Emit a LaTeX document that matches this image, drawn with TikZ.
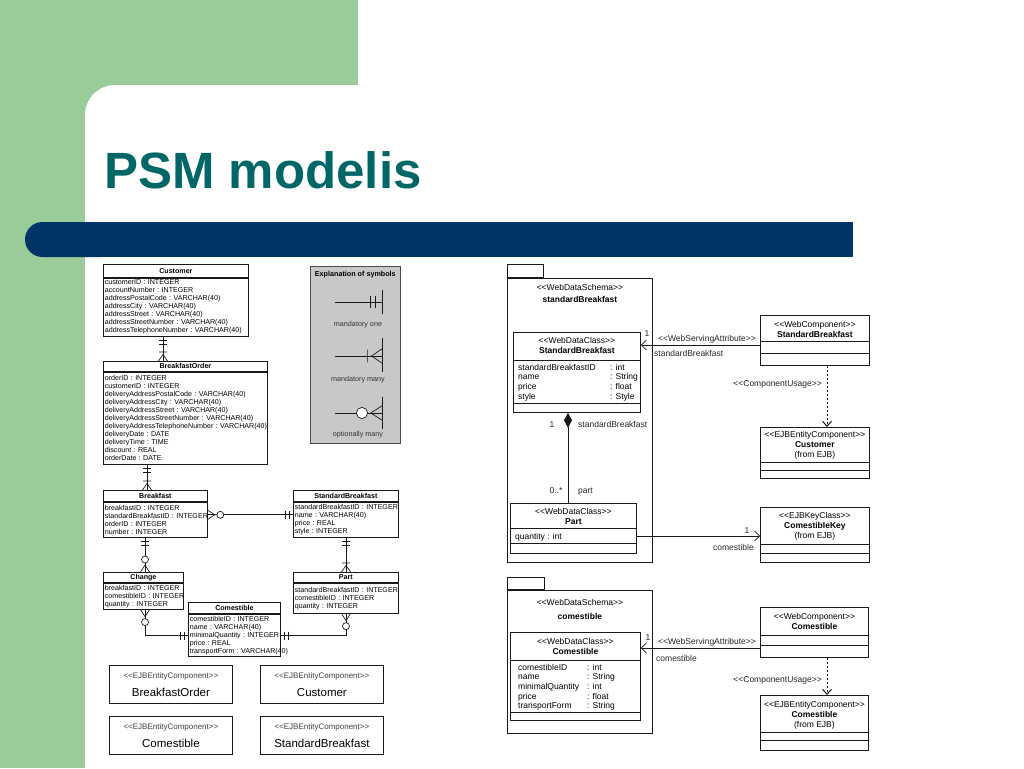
\documentclass[tikz,border=0pt]{standalone}
\usepackage{fontspec}
\setmainfont{Liberation Sans}
\usetikzlibrary{arrows.meta,calc}
\definecolor{slgreen}{HTML}{99CC99}
\definecolor{slteal}{HTML}{006666}
\definecolor{slnavy}{HTML}{003366}
\definecolor{lgray}{HTML}{C8C8C8}
\newcommand\sopen{<\kern0pt<}
\newcommand\sclose{>\kern0pt>}
\newcommand\erf{\fontsize{7.1}{8}\selectfont\hyphenpenalty=10000\exhyphenpenalty=10000\relax}
\newcommand\umf{\fontsize{8.5}{9.6}\selectfont}
\newcommand\ejbs{{\fontsize{8}{9}\selectfont\color{black!75}\sopen EJBEntityComponent\sclose}}
\newcommand\sepl[2]{\draw[umlline] ([yshift=-#2]#1.north west) -- ([yshift=-#2]#1.north east);}
\begin{document}
\begin{tikzpicture}[x=1pt,y=-1pt,
  erline/.style={line width=0.7pt, draw=black!90},
  ert/.style 2 args={draw=black!90, line width=0.8pt, anchor=north west, minimum width=#1, minimum height=#2, inner sep=0pt, font=\erf\bfseries},
  era/.style 2 args={draw=black!90, line width=0.8pt, anchor=north west, inner xsep=1.5pt, inner ysep=0pt, text width=#1, minimum height=#2, align=left, font=\erf},
  umlline/.style={line width=0.7pt, draw=black!90},
  umlbox/.style={draw=black!90, line width=0.8pt, anchor=north west, inner sep=0pt},
  umlt/.style={font=\umf, align=center, inner sep=0pt, anchor=north},
  lbl/.style={font=\umf, inner sep=0pt, text=black!85},
  uarrow/.style={umlline, -{Straight Barb[length=5pt,width=10pt]}},
  udash/.style={line width=1pt, draw=black!90, dash pattern=on 2.5pt off 1.5pt, -{Straight Barb[length=5pt,width=9pt]}},
  ejbl/.style={draw=black!90, line width=0.8pt, anchor=north west, minimum width=123pt, minimum height=38pt, align=center, inner sep=1pt, font=\fontsize{11.5}{14}\selectfont},
  mone/.pic={\draw[erline] (4,-4) -- (4,4) (7.5,-4) -- (7.5,4);},
  mmany/.pic={\draw[erline] (0,-4.5) -- (6.5,0) -- (0,4.5) (9,-4) -- (9,4);},
  omany/.pic={\draw[erline] (0,-4.5) -- (7,0) -- (0,4.5); \draw[erline, fill=white] (12.5,0) circle[radius=3.5pt];},
]
\useasboundingbox (0,0) rectangle (1024,768);
% slide background
\fill[white] (0,0) rectangle (1024,768);
\fill[slgreen] (0,0) rectangle (358,130);
\fill[slgreen] (0,0) rectangle (85,768);
\fill[white, rounded corners=30pt] (85,85) rectangle (1300,1000);
\fill[slnavy, rounded corners=17.5pt] (25,222) rectangle (120,257);
\fill[slnavy] (80,222) rectangle (853,257);
\node[anchor=base west, inner sep=0pt, text=slteal, font=\fontsize{51}{51}\selectfont\bfseries] (title) at (104,188) {PSM modelis};

% ===== ER diagram =====
\node[ert={145pt}{13pt}] (custT) at (103,264) {Customer};
\node[era={142pt}{58pt}] (custA) at (custT.south west) {customerID~:~INTEGER\\accountNumber~:~INTEGER\\addressPostalCode~:~VARCHAR(40)\\addressCity~:~VARCHAR(40)\\addressStreet~:~VARCHAR(40)\\addressStreetNumber~:~VARCHAR(40)\\addressTelephoneNumber~:~VARCHAR(40)};

\node[ert={164pt}{10pt}] (boT) at (103,361) {BreakfastOrder};
\node[era={161pt}{92pt}] (boA) at (boT.south west) {orderID~:~INTEGER\\customerID~:~INTEGER\\deliveryAddressPostalCode~:~VARCHAR(40)\\deliveryAddressCity~:~VARCHAR(40)\\deliveryAddressStreet~:~VARCHAR(40)\\deliveryAddressStreetNumber~:~VARCHAR(40)\\deliveryAddressTelephoneNumber~:~VARCHAR(40)\\deliveryDate~:~DATE\\deliveryTime~:~TIME\\discount~:~REAL\\orderDate~:~DATE};

\node[ert={104pt}{11pt}] (bfT) at (103,490) {Breakfast};
\node[era={101pt}{35pt}] (bfA) at (bfT.south west) {breakfastID~:~INTEGER\\standardBreakfastID~:~INTEGER\\orderID~:~INTEGER\\number~:~INTEGER};

\node[ert={105pt}{11pt}] (sbT) at (293,490) {StandardBreakfast};
\node[era={102pt}{35pt}] (sbA) at (sbT.south west) {standardBreakfastID~:~INTEGER\\name~:~VARCHAR(40)\\price~:~REAL\\style~:~INTEGER};

\node[ert={80pt}{10pt}] (chT) at (103,572) {Change};
\node[era={77pt}{26pt}] (chA) at (chT.south west) {breakfastID~:~INTEGER\\comestibleID~:~INTEGER\\quantity~:~INTEGER};

\node[ert={105pt}{10pt}] (ptT) at (293,572) {Part};
\node[era={102pt}{30pt}] (ptA) at (ptT.south west) {standardBreakfastID~:~INTEGER\\comestibleID~:~INTEGER\\quantity~:~INTEGER};

\node[ert={92pt}{11pt}] (cmT) at (188,602) {Comestible};
\node[era={89pt}{42pt}] (cmA) at (cmT.south west) {comestibleID~:~INTEGER\\name~:~VARCHAR(40)\\minimalQuantity~:~INTEGER\\price~:~REAL\\transportForm~:~VARCHAR(40)};

% ER connectors
\draw[erline] ([xshift=60pt]custA.south west) coordinate (e1) -- (e1 |- boT.north) coordinate (e2);
\pic[rotate=-90] at (e1) {mone};
\pic[rotate=90] at (e2) {mmany};
\draw[erline] ([xshift=44pt]boA.south west) coordinate (e3) -- (e3 |- bfT.north) coordinate (e4);
\pic[rotate=-90] at (e3) {mone};
\pic[rotate=90] at (e4) {mmany};
\draw[erline] ([yshift=-13pt]bfA.north east) coordinate (e5) -- (e5 -| sbA.west) coordinate (e6);
\pic at (e5) {omany};
\pic[rotate=180] at (e6) {mone};
\draw[erline] ([xshift=42pt]bfA.south west) coordinate (e7) -- (e7 |- chT.north) coordinate (e8);
\pic[rotate=-90] at (e7) {mone};
\pic[rotate=90] at (e8) {omany};
\draw[erline] ([xshift=53pt]sbA.south west) coordinate (e9) -- (e9 |- ptT.north) coordinate (e10);
\pic[rotate=-90] at (e9) {mone};
\pic[rotate=90] at (e10) {mmany};
\draw[erline] ([xshift=42pt]chA.south west) coordinate (e11) |- ([yshift=-22pt]cmA.north west) coordinate (e12);
\pic[rotate=-90] at (e11) {omany};
\pic[rotate=180] at (e12) {mone};
\draw[erline] ([xshift=53pt]ptA.south west) coordinate (e13) |- ([yshift=-22pt]cmA.north east) coordinate (e14);
\pic[rotate=-90] at (e13) {omany};
\pic at (e14) {mone};

% legend
\node[draw=black!70, fill=lgray, line width=0.6pt, anchor=north west, minimum width=90pt, minimum height=177pt, inner sep=0pt] (expl) at (310,266) {};
\node[font=\fontsize{7.2}{8}\selectfont\bfseries, anchor=north, inner sep=0pt] (explt) at ([yshift=-5pt]expl.north) {Explanation of symbols};
\coordinate (lg1) at (382,302);
\draw[erline] (335,302) -- (lg1);
\draw[erline] (382,290) -- (382,314);
\pic[rotate=180, scale=1.6] at (lg1) {mone};
\node[font=\fontsize{7.2}{8}\selectfont, text=black!80, anchor=base, inner sep=0pt] (lgt1) at (358,326) {mandatory one};
\coordinate (lg2) at (382,356);
\draw[erline] (335,356) -- (lg2);
\draw[erline] (382,338) -- (382,372);
\pic[rotate=180, scale=1.6] at (lg2) {mmany};
\node[font=\fontsize{7.2}{8}\selectfont, text=black!80, anchor=base, inner sep=0pt] (lgt2) at (358,381) {mandatory many};
\coordinate (lg3) at (382,413);
\draw[erline] (335,413) -- (lg3);
\draw[erline] (382,397) -- (382,429);
\pic[rotate=180, scale=1.6] at (lg3) {omany};
\node[font=\fontsize{7.2}{8}\selectfont, text=black!80, anchor=base, inner sep=0pt] (lgt3) at (358,436) {optionally many};

% EJB component boxes
\node[ejbl] (eb1) at (109,665) {\ejbs\\[4pt]BreakfastOrder};
\node[ejbl] (eb2) at (260,665) {\ejbs\\[4pt]Customer};
\node[ejbl] (eb3) at (109,716) {\ejbs\\[4pt]Comestible};
\node[ejbl] (eb4) at (260,716) {\ejbs\\[4pt]StandardBreakfast};

% ===== UML diagram =====
\node[umlbox, minimum width=145pt, minimum height=284pt] (pk1) at (507,278) {};
\node[umlbox, anchor=south west, minimum width=36pt, minimum height=13pt] (pk1tab) at (pk1.north west) {};
\node[umlt] (pk1n) at ([yshift=-6.6pt]pk1.north) {\sopen WebDataSchema\sclose\\[2.4pt]\textbf{standardBreakfast}};

\node[umlbox, minimum width=127pt, minimum height=80pt] (sbc) at (513,332) {};
\node[umlt] (sbcn) at ([yshift=-5.6pt]sbc.north) {\sopen WebDataClass\sclose\\\textbf{StandardBreakfast}};
\sepl{sbc}{28pt}\sepl{sbc}{71pt}
\node[umlt, anchor=north west, align=left] (sbca) at ([shift={(5pt,-31.3pt)}]sbc.north west) {\begin{tabular}{@{}p{92pt}@{}l@{}}standardBreakfastID & : int\\name & : String\\price & : float\\style & : Style\end{tabular}};

\node[umlbox, minimum width=126pt, minimum height=50pt] (pc) at (510,503) {};
\node[umlt] (pcn) at ([yshift=-5.6pt]pc.north) {\sopen WebDataClass\sclose\\\textbf{Part}};
\sepl{pc}{25pt}\sepl{pc}{40pt}
\node[umlt, anchor=north west, align=left] (pca) at ([shift={(5pt,-30pt)}]pc.north west) {quantity : int};

\draw[umlline, {Diamond[length=15pt,width=8pt]}-] ([xshift=55pt]sbc.south west) coordinate (d1) -- (d1 |- pc.north);

\node[umlbox, minimum width=109pt, minimum height=50pt] (wc1) at (760,315) {};
\node[umlt] (wc1n) at ([yshift=-6.6pt]wc1.north) {\sopen WebComponent\sclose\\\textbf{StandardBreakfast}};
\sepl{wc1}{26pt}\sepl{wc1}{38pt}

\node[umlbox, minimum width=109pt, minimum height=51pt] (ejb1) at (760,427) {};
\node[umlt] (ejb1n) at ([yshift=-4.6pt]ejb1.north) {\sopen EJBEntityComponent\sclose\\\textbf{Customer}\\(from EJB)};
\sepl{ejb1}{35pt}\sepl{ejb1}{43pt}

\node[umlbox, minimum width=109pt, minimum height=55pt] (ck) at (760,507) {};
\node[umlt] (ckn) at ([yshift=-5.6pt]ck.north) {\sopen EJBKeyClass\sclose\\\textbf{ComestibleKey}\\(from EJB)};
\sepl{ck}{37pt}\sepl{ck}{46pt}

\draw[uarrow] ([yshift=-30pt]wc1.north west) coordinate (a1) -- (a1 -| sbc.east);
\draw[udash] ([xshift=67pt]wc1.south west) coordinate (a2) -- (a2 |- ejb1.north);
\draw[uarrow] ([yshift=-33pt]pc.north east) coordinate (a3) -- (a3 -| ck.west);

\node[umlbox, minimum width=145pt, minimum height=143pt] (pk2) at (507,590) {};
\node[umlbox, anchor=south west, minimum width=37pt, minimum height=12pt] (pk2tab) at (pk2.north west) {};
\node[umlt] (pk2n) at ([yshift=-9.6pt]pk2.north) {\sopen WebDataSchema\sclose\\[4pt]\textbf{comestible}};

\node[umlbox, minimum width=130pt, minimum height=88pt] (cc) at (510,632) {};
\node[umlt] (ccn) at ([yshift=-6.6pt]cc.north) {\sopen WebDataClass\sclose\\\textbf{Comestible}};
\sepl{cc}{28pt}\sepl{cc}{80pt}
\node[umlt, anchor=north west, align=left] (cca) at ([shift={(8pt,-31.3pt)}]cc.north west) {\begin{tabular}{@{}p{69pt}@{}l@{}}comestibleID & : int\\name & : String\\minimalQuantity & : int\\price & : float\\transportForm & : String\end{tabular}};

\node[umlbox, minimum width=108pt, minimum height=50pt] (wc2) at (760,607) {};
\node[umlt] (wc2n) at ([yshift=-6.6pt]wc2.north) {\sopen WebComponent\sclose\\\textbf{Comestible}};
\sepl{wc2}{28pt}\sepl{wc2}{38pt}

\node[umlbox, minimum width=108pt, minimum height=55pt] (ejb2) at (760,695) {};
\node[umlt] (ejb2n) at ([yshift=-6.6pt]ejb2.north) {\sopen EJBEntityComponent\sclose\\\textbf{Comestible}\\(from EJB)};
\sepl{ejb2}{37pt}\sepl{ejb2}{45pt}

\draw[uarrow] ([yshift=-41pt]wc2.north west) coordinate (a4) -- (a4 -| cc.east);
\draw[udash] ([xshift=67pt]wc2.south west) coordinate (a5) -- (a5 |- ejb2.north);

% labels
\node[lbl, anchor=base] (l1) at (647,336) {1};
\node[lbl, anchor=base] (l2) at (707,341) {\sopen WebServingAttribute\sclose};
\node[lbl, anchor=base west] (l3) at (654,356) {standardBreakfast};
\node[lbl, anchor=base east] (l4) at (822,386) {\sopen ComponentUsage\sclose};
\node[lbl, anchor=base] (l5) at (552,427) {1};
\node[lbl, anchor=base west] (l6) at (578,427) {standardBreakfast};
\node[lbl, anchor=base] (l7) at (556,493) {0..*};
\node[lbl, anchor=base west] (l8) at (578,493) {part};
\node[lbl, anchor=base] (l9) at (747,533) {1};
\node[lbl, anchor=base east] (l10) at (754,550) {comestible};
\node[lbl, anchor=base] (l11) at (648,640) {1};
\node[lbl, anchor=base] (l12) at (707,644) {\sopen WebServingAttribute\sclose};
\node[lbl, anchor=base west] (l13) at (656,661) {comestible};
\node[lbl, anchor=base east] (l14) at (822,682) {\sopen ComponentUsage\sclose};
\end{tikzpicture}
\end{document}
